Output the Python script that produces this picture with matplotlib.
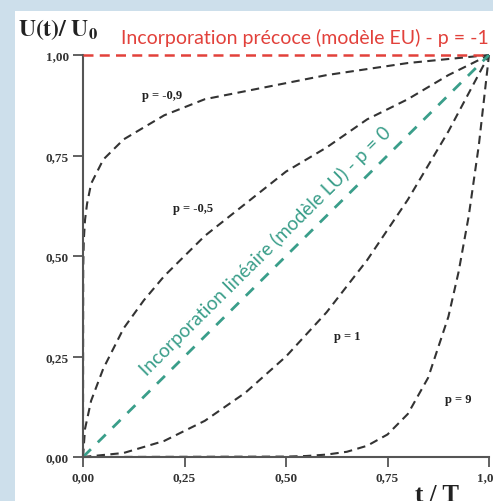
import matplotlib
matplotlib.use("Agg")
import matplotlib.pyplot as plt
from matplotlib.patches import Rectangle

# courbes : U(t)/U0 en fonction de t/T
t_m09 = [0, 0.0005, 0.002, 0.005, 0.01, 0.02, 0.05, 0.1, 0.2, 0.3, 0.4, 0.5, 0.6, 0.7, 0.8, 0.9, 1.0]
u_m09 = [0, 0.47, 0.54, 0.59, 0.63, 0.68, 0.74, 0.79, 0.85, 0.89, 0.91, 0.93, 0.95, 0.965, 0.98, 0.99, 1.0]

t_m05 = [0, 0.005, 0.02, 0.05, 0.1, 0.15, 0.2, 0.3, 0.4, 0.5, 0.6, 0.7, 0.8, 0.9, 1.0]
u_m05 = [0, 0.07, 0.14, 0.22, 0.32, 0.39, 0.45, 0.55, 0.63, 0.71, 0.77, 0.84, 0.89, 0.95, 1.0]

t_p1 = [0, 0.1, 0.2, 0.3, 0.4, 0.5, 0.6, 0.7, 0.8, 0.9, 1.0]
u_p1 = [0, 0.01, 0.04, 0.09, 0.16, 0.25, 0.36, 0.49, 0.64, 0.81, 1.0]

t_p9 = [0, 0.5, 0.55, 0.6, 0.65, 0.7, 0.75, 0.8, 0.85, 0.9, 0.925, 0.95, 0.975, 1.0]
u_p9 = [0, 0.001, 0.0025, 0.006, 0.013, 0.028, 0.056, 0.107, 0.197, 0.349, 0.46, 0.599, 0.776, 1.0]

t_lin = [0, 1]
u_lin = [0, 1]
t_eu = [0, 1]
u_eu = [1, 1]

ticks = [0, 0.25, 0.5, 0.75, 1.0]
tick_labels = ["0,00", "0,25", "0,50", "0,75", "1,00"]

labels = ["p = -0,9", "p = -0,5", "p = 1", "p = 9"]
label_pos = [(0.195, 0.90), (0.27, 0.62), (0.65, 0.30), (0.924, 0.144)]

plt.rcParams['mathtext.fontset'] = 'stix'
serif = 'Liberation Serif'
red = '#e2413b'
teal = '#3a9e8a'
dark = '#333333'

fig = plt.figure(figsize=(4.93, 5.02), dpi=100)
fig.patch.set_facecolor('#cddfeb')
# panneau blanc derriere le graphique
fig.patches.append(Rectangle((15/493, 0), 1, 1 - 12/502, transform=fig.transFigure,
                             facecolor='white', edgecolor='none', zorder=-10))

ax = fig.add_axes([83/493, 1 - 458/502, 406/493, 402/502])
ax.set_facecolor('none')
ax.set_xlim(0, 1)
ax.set_ylim(0, 1)

dash = (0, (4, 2.6))
for t, u in [(t_m09, u_m09), (t_m05, u_m05), (t_p1, u_p1), (t_p9, u_p9)]:
    ax.plot(t, u, color=dark, lw=1.5, linestyle=dash, clip_on=False)

ax.plot(t_lin, u_lin, color=teal, lw=2.0, linestyle=(0, (4, 3.5)), clip_on=False)
ax.plot(t_eu, u_eu, color=red, lw=1.8, linestyle=(0, (4, 2.5)), clip_on=False, zorder=5)

for s, (x, y) in zip(labels, label_pos):
    ax.text(x, y, s, fontsize=9, fontweight='bold', family=serif, color='#222222',
            ha='center', va='center')

ax.text(1.0, 1.022, "Incorporation précoce (modèle EU) - p = -1", color=red,
        fontsize=14, family='Lato', ha='right', va='bottom', transform=ax.transAxes)

ax.text(0.448, 0.515, "Incorporation linéaire (modèle LU) - p = 0", color=teal,
        fontsize=13.8, family='Lato', ha='center', va='center', rotation=44.7,
        rotation_mode='anchor')

for side in ['top', 'right']:
    ax.spines[side].set_visible(False)
for side in ['left', 'bottom']:
    ax.spines[side].set_color('#555555')
    ax.spines[side].set_linewidth(1.5)

ax.set_xticks(ticks)
ax.set_xticklabels(tick_labels)
ax.set_yticks(ticks)
ax.set_yticklabels(tick_labels)
ax.tick_params(direction='out', length=7, width=1.3, color='#555555', pad=3)
for lab in ax.get_xticklabels() + ax.get_yticklabels():
    lab.set_fontfamily(serif)
    lab.set_fontweight('bold')
    lab.set_fontsize(9.5)
    lab.set_color('#333333')

fig.text(18/493, 1 - 30/502, r"$\mathbf{U(t)/\ U_0}$", fontsize=17, color='#222222',
         ha='left', va='center')
fig.text(437/493, 1 - 484/502, "t / T", fontsize=18, fontweight='bold', family=serif,
         color='#222222', ha='center', va='top')

fig.savefig("out.png", dpi=100, facecolor=fig.get_facecolor())
